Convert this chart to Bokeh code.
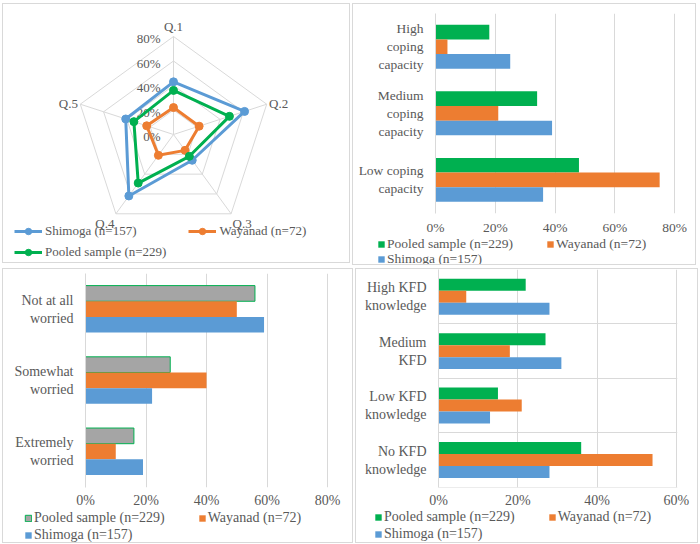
import math
from bokeh.plotting import figure
from bokeh.layouts import row, column
from bokeh.models import (Legend, LegendItem, FixedTicker, Range1d, ColumnDataSource,
                          PrintfTickFormatter)
from bokeh.transform import dodge
from bokeh.embed import file_html
from bokeh.resources import INLINE
from bokeh.core.properties import value

FONT = "Liberation Serif"
TXT = "#595959"
GRID = "#d9d9d9"
BLUE, ORANGE, GREEN, GRAY = "#5B9BD5", "#ED7D31", "#00B050", "#A5A5A5"
PANEL_STYLE = {"border": "1px solid #d9d9d9"}

NAME_SHIMOGA = "Shimoga (n=157)"
NAME_WAYANAD = "Wayanad (n=72)"
NAME_POOLED = "Pooled sample (n=229)"

# ---------------- data ----------------
radar_axes = ["Q.1", "Q.2", "Q.3", "Q.4", "Q.5"]
radar_ticks = [0, 20, 40, 60, 80]
radar_shimoga = [43, 61, 26, 62, 41]
radar_wayanad = [22, 22, 16, 21, 23]
radar_pooled = [36, 48, 22, 49, 34]

coping_cats = ["High\ncoping\ncapacity", "Medium\ncoping\ncapacity", "Low coping\ncapacity"]
coping_pooled = [18, 34, 48]
coping_wayanad = [4, 21, 75]
coping_shimoga = [25, 39, 36]
coping_ticks = [0, 20, 40, 60, 80]

worry_cats = ["Not at all\nworried", "Somewhat\nworried", "Extremely\nworried"]
worry_pooled = [56, 28, 16]
worry_wayanad = [50, 40, 10]
worry_shimoga = [59, 22, 19]
worry_ticks = [0, 20, 40, 60, 80]

kfd_cats = ["High KFD\nknowledge", "Medium\nKFD", "Low KFD\nknowledge", "No KFD\nknowledge"]
kfd_pooled = [22, 27, 15, 36]
kfd_wayanad = [7, 18, 21, 54]
kfd_shimoga = [28, 31, 13, 28]
kfd_ticks = [0, 20, 40, 60]


def make_legend(items, loc, size, gw, gh, lh, spacing, standoff):
    return Legend(items=items, location=loc, orientation="horizontal",
                  spacing=spacing, label_standoff=standoff,
                  glyph_width=gw, glyph_height=gh, label_height=lh,
                  padding=0, margin=0, border_line_color=None,
                  background_fill_alpha=0,
                  label_text_font=FONT, label_text_font_size=size,
                  label_text_color=TXT)


# ---------------- radar ----------------
W1, H1 = 348, 260
S = 98 / 80.0
CX, CY = 170, 130
p1 = figure(width=W1, height=H1,
            x_range=Range1d(-CX / S, (W1 - CX) / S),
            y_range=Range1d(-(H1 - CY) / S, CY / S),
            x_axis_type=None, y_axis_type=None, output_backend="svg",
            toolbar_location=None, min_border=0, outline_line_color=None,
            frame_align=False, styles=PANEL_STYLE)
n_ax = len(radar_axes)
angles = [math.pi / 2 - 2 * math.pi * k / n_ax for k in range(n_ax)]


def polar(vals):
    return ([v * math.cos(a) for v, a in zip(vals, angles)],
            [v * math.sin(a) for v, a in zip(vals, angles)])


ring_xs, ring_ys = [], []
for t in radar_ticks[1:]:
    xs, ys = polar([t] * n_ax)
    ring_xs.append(xs + [xs[0]])
    ring_ys.append(ys + [ys[0]])
p1.multi_line(ring_xs, ring_ys, line_color=GRID, line_width=1)
sx, sy = polar([radar_ticks[-1]] * n_ax)
p1.segment(x0=[0] * n_ax, y0=[0] * n_ax, x1=sx, y1=sy, line_color=GRID, line_width=1)

p1.text(x=[0] * len(radar_ticks), y=radar_ticks, text=[f"{t}%" for t in radar_ticks],
        x_offset=-13, y_offset=2, text_align="right", text_baseline="middle",
        text_font=value(FONT), text_font_size="13px", text_color=TXT)

lab_align = ["center", "left", "left", "right", "right"]
lab_base = ["bottom", "middle", "top", "top", "middle"]
lx, ly = polar([radar_ticks[-1] + 2] * n_ax)
for k in range(n_ax):
    p1.text(x=[lx[k]], y=[ly[k]], text=[radar_axes[k]], text_align=lab_align[k],
            text_baseline=lab_base[k], text_font=value(FONT), text_font_size="13px",
            text_color=TXT)

radar_renderers = {}
for name, vals, col in [(NAME_SHIMOGA, radar_shimoga, BLUE),
                        (NAME_WAYANAD, radar_wayanad, ORANGE),
                        (NAME_POOLED, radar_pooled, GREEN)]:
    xs, ys = polar(vals)
    rl = p1.line(xs + [xs[0]], ys + [ys[0]], line_color=col, line_width=3)
    rp = p1.scatter(xs, ys, size=8, color=col)
    radar_renderers[name] = [rl, rp]

lg1a = make_legend([LegendItem(label=NAME_SHIMOGA, renderers=radar_renderers[NAME_SHIMOGA]),
                    LegendItem(label=NAME_WAYANAD, renderers=radar_renderers[NAME_WAYANAD])],
                   (11, H1 - 227 - 8), "13px", 28, 16, 16, 52, 3)
lg1b = make_legend([LegendItem(label=NAME_POOLED, renderers=radar_renderers[NAME_POOLED])],
                   (11, H1 - 248 - 8), "13px", 28, 16, 16, 0, 3)
p1.add_layout(lg1a)
p1.add_layout(lg1b)


# ---------------- bar panels ----------------
def bar_panel(cats, pooled, wayanad, shimoga, ticks, w, h, leg_h, mb, size, xstand,
              pooled_fill, pooled_line, leg_x, leg_gap, leg_rows, hgrid):
    n = len(cats)
    pos = list(range(n - 1, -1, -1))
    p = figure(width=w, height=h - leg_h,
               x_range=Range1d(ticks[0], ticks[-1] + 0.3),
               y_range=Range1d(-0.505, n - 0.5),
               output_backend="svg", toolbar_location=None,
               min_border_left=mb[0], min_border_right=mb[1],
               min_border_top=mb[2], min_border_bottom=mb[3],
               outline_line_color=None, frame_align=False)
    bh = 0.22
    src = ColumnDataSource(dict(y=pos, pooled=pooled, wayanad=wayanad, shimoga=shimoga))
    p.hbar(y=dodge("y", bh), left=0, right="pooled", height=bh, source=src,
           fill_color=pooled_fill, line_color=pooled_line, line_width=1)
    p.hbar(y="y", left=0, right="wayanad", height=bh, source=src,
           fill_color=ORANGE, line_color=None)
    p.hbar(y=dodge("y", -bh), left=0, right="shimoga", height=bh, source=src,
           fill_color=BLUE, line_color=None)

    p.xaxis.ticker = FixedTicker(ticks=ticks)
    p.xaxis.formatter = PrintfTickFormatter(format="%d%%")
    p.xaxis.axis_line_color = None
    p.xaxis.major_label_standoff = xstand
    p.yaxis.ticker = FixedTicker(ticks=pos)
    p.yaxis.major_label_overrides = {pp: c for pp, c in zip(pos, cats)}
    p.yaxis.axis_line_color = GRID
    p.yaxis.major_label_standoff = 12
    for ax in p.axis:
        ax.major_tick_line_color = None
        ax.minor_tick_line_color = None
        ax.major_tick_out = 0
        ax.major_tick_in = 0
        ax.minor_tick_out = 0
        ax.minor_tick_in = 0
        ax.major_label_text_font = FONT
        ax.major_label_text_font_size = size
        ax.major_label_text_color = TXT
    p.xgrid.ticker = FixedTicker(ticks=ticks)
    p.xgrid.grid_line_color = GRID
    if hgrid:
        p.ygrid.ticker = FixedTicker(ticks=[k - 0.5 for k in range(n + 1)])
        p.ygrid.grid_line_color = GRID
    else:
        p.ygrid.grid_line_color = None

    # legend strip: proxy glyphs (drawn outside the strip's range) carry the bar styles
    lf = figure(width=w, height=leg_h, x_range=Range1d(0, 1), y_range=Range1d(0, 1),
                x_axis_type=None, y_axis_type=None, min_border=0,
                outline_line_color=None, toolbar_location=None,
                output_backend="svg", frame_align=False)
    g_p = lf.hbar(y=[-10], right=[0], left=0, height=0.1,
                  fill_color=pooled_fill, line_color=pooled_line, line_width=1)
    g_w = lf.hbar(y=[-10], right=[0], left=0, height=0.1, fill_color=ORANGE, line_color=None)
    g_s = lf.hbar(y=[-10], right=[0], left=0, height=0.1, fill_color=BLUE, line_color=None)
    rh = 14
    la = make_legend([LegendItem(label=NAME_POOLED, renderers=[g_p]),
                      LegendItem(label=NAME_WAYANAD, renderers=[g_w])],
                     (leg_x, leg_h - (leg_rows[0] + rh / 2)), size, 8, 8, rh, leg_gap, 2)
    lb = make_legend([LegendItem(label=NAME_SHIMOGA, renderers=[g_s])],
                     (leg_x, leg_h - (leg_rows[1] + rh / 2)), size, 8, 8, rh, 0, 2)
    lf.add_layout(la)
    lf.add_layout(lb)
    return column(p, lf, spacing=0, styles=PANEL_STYLE)


p2 = bar_panel(coping_cats, coping_pooled, coping_wayanad, coping_shimoga, coping_ticks,
               342, 260, 27, (82, 20, 9, 22), "13.5px", 6, GREEN, None,
               24, 33, (7.5, 23), False)
p3 = bar_panel(worry_cats, worry_pooled, worry_wayanad, worry_shimoga, worry_ticks,
               349, 273, 32, (82, 24, 4, 21), "14px", 5, GRAY, GREEN,
               21, 33, (9, 26), False)
p4 = bar_panel(kfd_cats, kfd_pooled, kfd_wayanad, kfd_shimoga, kfd_ticks,
               341, 273, 32, (82, 20, 0, 22), "14px", 5, GREEN, None,
               18, 33, (8, 25), True)

layout = column(row(p1, p2, spacing=2), row(p3, p4, spacing=2), spacing=3,
                styles={"margin-left": "2px", "margin-top": "3px"})
open("out.html", "w").write(file_html(layout, INLINE))
